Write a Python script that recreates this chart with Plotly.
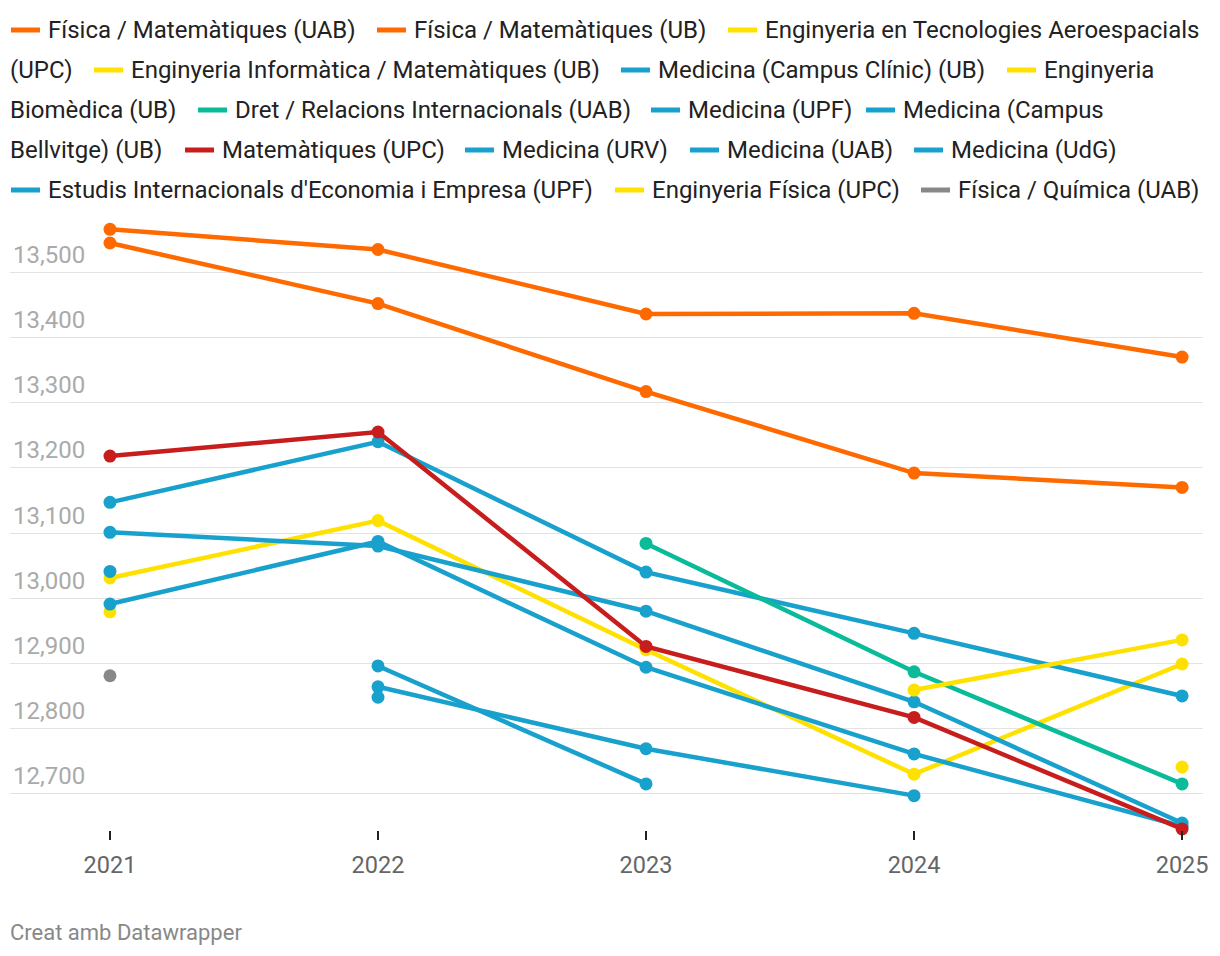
import plotly.graph_objects as go

# ---------------- data ----------------
years = [2021, 2022, 2023, 2024, 2025]

names = [
    "Física / Matemàtiques (UAB)",
    "Física / Matemàtiques (UB)",
    "Enginyeria en Tecnologies Aeroespacials (UPC)",
    "Enginyeria Informàtica / Matemàtiques (UB)",
    "Medicina (Campus Clínic) (UB)",
    "Enginyeria Biomèdica (UB)",
    "Dret / Relacions Internacionals (UAB)",
    "Medicina (UPF)",
    "Medicina (Campus Bellvitge) (UB)",
    "Matemàtiques (UPC)",
    "Medicina (URV)",
    "Medicina (UAB)",
    "Medicina (UdG)",
    "Estudis Internacionals d'Economia i Empresa (UPF)",
    "Enginyeria Física (UPC)",
    "Física / Química (UAB)",
]

fis_mat_uab = [13566, 13535, 13436, 13437, 13370]
fis_mat_ub = [13545, 13452, 13317, 13192, 13170]
eng_aero_upc = [13031, 13119, 12921, 12730, 12899]
eng_inf_mat_ub = [12979, None, None, None, None]
med_clinic_ub = [13147, 13240, 13040, 12946, 12850]
eng_biomed_ub = [None, None, None, None, 12741]
dret_ri_uab = [None, None, 13084, 12887, 12715]
med_upf = [13101, 13080, 12980, 12841, 12655]
med_bellvitge_ub = [12991, 13087, 12894, 12761, 12650]
mat_upc = [13218, 13255, 12926, 12817, 12646]
med_urv = [None, 12864, 12769, 12697, None]
med_uab = [None, 12896, 12715, None, None]
med_udg = [13041, None, None, None, None]
eiee_upf = [None, 12848, None, None, None]
eng_fis_upc = [None, None, None, 12859, 12936]
fis_quim_uab = [12881, None, None, None, None]

series_values = [
    fis_mat_uab, fis_mat_ub, eng_aero_upc, eng_inf_mat_ub, med_clinic_ub,
    eng_biomed_ub, dret_ri_uab, med_upf, med_bellvitge_ub, mat_upc,
    med_urv, med_uab, med_udg, eiee_upf, eng_fis_upc, fis_quim_uab,
]

y_ticks = [12700, 12800, 12900, 13000, 13100, 13200, 13300, 13400, 13500]

# ---------------- styles ----------------
ORANGE = "#ff6a00"
YELLOW = "#ffe100"
BLUE = "#18a1cd"
GREEN = "#0abb9a"
RED = "#c71e1d"
GRAY = "#888888"
colors = [ORANGE, ORANGE, YELLOW, YELLOW, BLUE, YELLOW, GREEN, BLUE, BLUE,
          RED, BLUE, BLUE, BLUE, BLUE, YELLOW, GRAY]

FONT = "Roboto, 'Open Sans', sans-serif"
OFF = 8  # page body margin in the browser
PAGE_W, PAGE_H = 1220, 956
W, H = PAGE_W - OFF, PAGE_H - OFF
# plot area in page pixels: left 10, right 1203, top 210, bottom 830
ML = 10 - OFF
MT = 210 - OFF
MR = W - (1203 - OFF)
MB = H - (830 - OFF)
PW = W - ML - MR
PH = H - MT - MB

Y_RANGE = [12644.3, 13595.6]
LABEL_LIFT_PX = 1  # fine-tune of y label height above gridlines
lift = LABEL_LIFT_PX * (Y_RANGE[1] - Y_RANGE[0]) / PH


def px(x):
    """page x pixel -> paper x"""
    return (x - OFF - ML) / PW


def py(y):
    """page y pixel -> paper y"""
    return (H - MB - (y - OFF)) / PH


fig = go.Figure()
# empty helper trace so the label-only axis is drawn
fig.add_trace(go.Scatter(x=[], y=[], yaxis="y2", showlegend=False,
                         hoverinfo="skip", mode="lines"))
for name, vals, col in zip(names, series_values, colors):
    fig.add_trace(go.Scatter(
        x=years, y=vals, name=name, mode="lines+markers",
        line=dict(color=col, width=4.5),
        marker=dict(color=col, size=13),
        cliponaxis=False, showlegend=False,
    ))

# ---------------- manual legend (Datawrapper-style wrapping) ----------------
legend_pos = [
    (0, 10), (0, 376), (0, 727), (1, 93), (1, 620), (1, 1006), (2, 197),
    (2, 650), (2, 865), (3, 184), (3, 464), (3, 689), (3, 913), (4, 10),
    (4, 614), (4, 920),
]
legend_split = {
    2: "Enginyeria en Tecnologies Aeroespacials",
    5: "Enginyeria",
    8: "Medicina (Campus",
}
row_y = [30, 70, 110, 150, 190]
LEG_SIZE = 24

shapes = []
annotations = []
for i, (name, col) in enumerate(zip(names, colors)):
    row, sx = legend_pos[i]
    yy = row_y[row]
    shapes.append(dict(type="line", xref="paper", yref="paper",
                       x0=px(sx + 1), x1=px(sx + 30), y0=py(yy), y1=py(yy),
                       line=dict(color=col, width=5)))
    first = legend_split.get(i, name)
    rest = name[len(first):].strip()
    annotations.append(dict(text=first, xref="paper", yref="paper",
                            x=px(sx + 36), y=py(yy), xanchor="left",
                            yanchor="middle", showarrow=False,
                            font=dict(family=FONT, size=LEG_SIZE, color="#222222")))
    if rest:
        annotations.append(dict(text=rest, xref="paper", yref="paper",
                                x=px(8), y=py(row_y[row + 1]), xanchor="left",
                                yanchor="middle", showarrow=False,
                                font=dict(family=FONT, size=LEG_SIZE, color="#222222")))

annotations.append(dict(text="Creat amb Datawrapper", xref="paper", yref="paper",
                        x=px(8), y=py(932), xanchor="left", yanchor="middle",
                        showarrow=False,
                        font=dict(family=FONT, size=22, color="#888888")))

fig.update_layout(
    width=W, height=H,
    margin=dict(l=ML, r=MR, t=MT, b=MB),
    paper_bgcolor="white", plot_bgcolor="white",
    font=dict(family=FONT),
    shapes=shapes, annotations=annotations,
    showlegend=False,
    xaxis=dict(
        range=[2020.627, 2025.078],
        tickvals=years, ticktext=[str(y) for y in years],
        showgrid=False, zeroline=False, showline=False,
        ticks="outside", ticklen=9, tickwidth=2, tickcolor="#222222",
        ticklabelstandoff=5,
        tickfont=dict(family=FONT, size=23.5, color="#666666"),
    ),
    yaxis=dict(
        range=Y_RANGE,
        tickvals=y_ticks, showticklabels=False,
        showgrid=True, gridcolor="#e3e3e3", gridwidth=1,
        zeroline=False, showline=False, ticks="",
    ),
    # label-only axis, labels sit above the gridlines
    yaxis2=dict(
        overlaying="y", side="left", anchor="x",
        range=[Y_RANGE[0] - lift, Y_RANGE[1] - lift],
        tickvals=y_ticks, tickformat=",d",
        showgrid=False, zeroline=False, showline=False, ticks="",
        ticklabelposition="inside top",
        tickfont=dict(family=FONT, size=24, color="#aaaaaa"),
    ),
)

fig.write_html("out.html")
